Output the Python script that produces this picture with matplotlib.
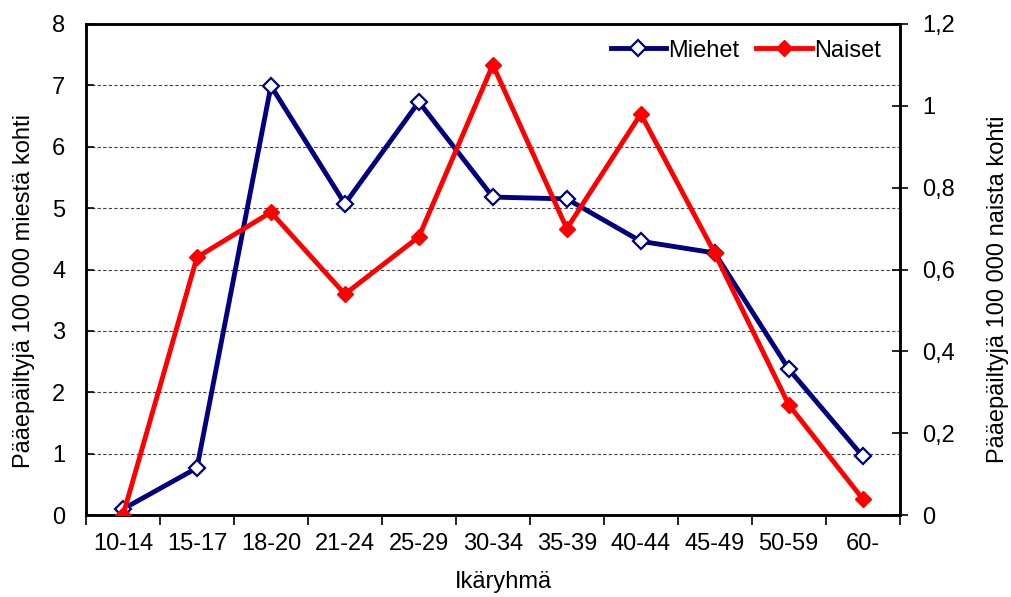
import matplotlib.pyplot as plt
import numpy as np

plt.rcParams['font.family'] = ['Liberation Sans', 'DejaVu Sans']

# age groups and rates per 100 000
groups = ["10-14", "15-17", "18-20", "21-24", "25-29", "30-34", "35-39",
          "40-44", "45-49", "50-59", "60-"]
miehet = [0.1, 0.77, 6.99, 5.07, 6.73, 5.18, 5.15, 4.46, 4.27, 2.38, 0.96]
naiset = [0.0, 0.63, 0.74, 0.54, 0.68, 1.10, 0.70, 0.98, 0.64, 0.27, 0.04]

fig = plt.figure(figsize=(10.12, 5.97), dpi=100)
ax = fig.add_axes([0.085, 0.137, 0.804, 0.823])
ax2 = ax.twinx()

x = np.arange(len(groups)) + 0.5

ax.plot(x, miehet, color='#000080', lw=3.5, marker='D', ms=8.5,
        mfc='white', mec='#000080', mew=1.6, label='Miehet', zorder=3)
ax2.plot(x, naiset, color='#ff0000', lw=3.5, marker='D', ms=8.5,
         mfc='#ff0000', mec='#ff0000', label='Naiset', zorder=3)

ax.set_xlim(0, len(groups))
ax.set_ylim(0, 8)
ax2.set_ylim(0, 1.2)
ax.set_yticks(range(0, 9))
ax2.set_yticks(np.arange(0, 1.21, 0.2))
ax2.set_yticklabels(['0', '0,2', '0,4', '0,6', '0,8', '1', '1,2'])

ax.set_xticks(np.arange(0, len(groups) + 1))
ax.set_xticklabels([])
ax.set_xticks(x, minor=True)
ax.set_xticklabels(groups, minor=True)
ax.tick_params(axis='x', which='minor', length=0, labelsize=17, pad=13)
ax.tick_params(axis='x', which='major', direction='out', length=7, width=1.2)
ax.tick_params(axis='y', direction='in', length=6, width=1.2, labelsize=17, pad=15)
ax2.tick_params(axis='y', direction='inout', length=11, width=1.2, labelsize=17, pad=11)

ax.yaxis.grid(True, ls=(0, (3, 2)), color='#444444', lw=0.8)
ax.set_axisbelow(True)

for s in ax.spines.values():
    s.set_linewidth(1.8)
for s in ax2.spines.values():
    s.set_linewidth(1.8)

ax.set_xlabel('Ikäryhmä', fontsize=17)
ax.xaxis.set_label_coords(0.513, -0.113)
ax.set_ylabel('Pääepäiltyjä 100 000 miestä kohti', fontsize=17)
ax.yaxis.set_label_coords(-0.063, 0.456)
ax2.set_ylabel('Pääepäiltyjä 100 000 naista kohti', fontsize=17)
ax2.yaxis.set_label_coords(1.107, 0.46)

h1, l1 = ax.get_legend_handles_labels()
h2, l2 = ax2.get_legend_handles_labels()
ax2.legend(h1 + h2, l1 + l2, loc='upper right', ncol=2, frameon=False,
           fontsize=17, handlelength=2.35, columnspacing=0.7, handletextpad=0.1,
           borderpad=0, borderaxespad=0, bbox_to_anchor=(0.977, 0.968))

fig.savefig('out.png', dpi=100)
